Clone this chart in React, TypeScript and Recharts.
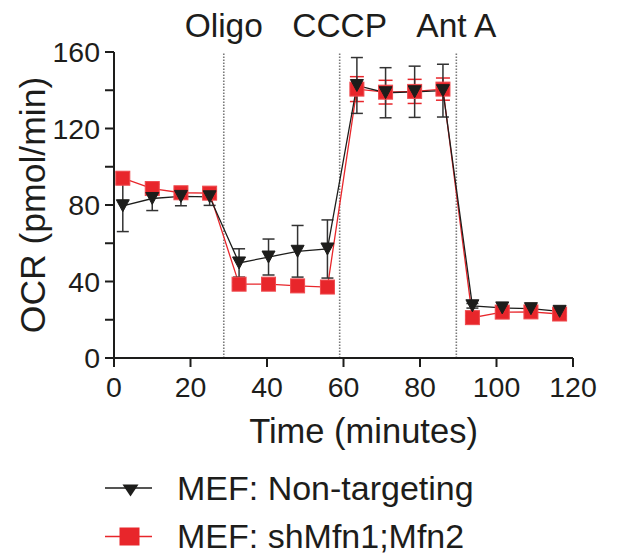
import React from 'react';
import { ComposedChart, Line, XAxis, YAxis, ErrorBar, ReferenceLine, Legend, Label } from 'recharts';

const times = [2.3, 10, 17.5, 25, 32.7, 40.4, 48, 55.8, 63.5, 71, 78.6, 86, 93.7, 101.5, 109, 116.5];
const nonTargeting = [79.6, 83.4, 84.5, 84.3, 49.7, 52.8, 55.8, 57, 142.5, 138.7, 139.2, 139.8, 27.3, 26.2, 25.8, 24.4];
const nonTargetingSd = [13.5, 6.3, 4.9, 4.5, 7.4, 9.4, 13.5, 15.2, 14.6, 13.1, 13.4, 13.8, 1.2, 1.2, 1.2, 1.2];
const shMfn = [94, 88.6, 86.4, 86.2, 38.6, 38.6, 37.7, 37.1, 140.6, 139, 139.4, 140.6, 21.1, 24, 24.1, 23];
const shMfnSd = [3, 2.2, 2, 2, 1, 1, 1, 1, 6.5, 6.2, 6.3, 5.8, 1, 1, 1, 1];

const xTicks = [0, 20, 40, 60, 80, 100, 120];
const yTicks = [0, 20, 40, 60, 80, 100, 120, 140, 160];
const injectionTimes = [28.7, 59, 89.5];
const injectionLabels = ['Oligo', 'CCCP', 'Ant A'];
const seriesNames = ['MEF: Non-targeting', 'MEF: shMfn1;Mfn2'];

const BLACK = '#1d1d1b';
const RED = '#e8262b';
const FONT = '"Liberation Sans", Arial, sans-serif';

const data = times.map((t, i) => ({
  time: t,
  nt: nonTargeting[i],
  ntErr: nonTargetingSd[i],
  sh: shMfn[i],
  shErr: shMfnSd[i],
}));

const triangle = (cx: number, cy: number, w: number, h: number) =>
  `M${cx - w / 2},${cy - h / 2} L${cx + w / 2},${cy - h / 2} L${cx},${cy + h / 2} Z`;

const TriDot = (props: any) => {
  const { cx, cy, index } = props;
  if (cx == null || cy == null) return null;
  return <path key={`t-${index}`} d={triangle(cx, cy, 13, 12)} fill={BLACK} stroke={BLACK} strokeWidth={1} />;
};

const SqDot = (props: any) => {
  const { cx, cy, index } = props;
  if (cx == null || cy == null) return null;
  return <rect key={`s-${index}`} x={cx - 7} y={cy - 7} width={14} height={14} fill={RED} stroke="#ef4a4e" strokeWidth={1} />;
};

const LegendContent = () => (
  <svg width={617} height={100} style={{ display: 'block' }}>
    {seriesNames.map((name, i) => {
      const ly = 28 + i * 48.5;
      return (
        <g key={name}>
          <line x1={105} x2={152} y1={ly} y2={ly} stroke={i === 0 ? BLACK : RED} strokeWidth={1.5} />
          {i === 0 ? (
            <path d={triangle(130.5, ly + 2.5, 16, 12)} fill={BLACK} />
          ) : (
            <rect x={119.5} y={ly - 9} width={20} height={18} fill={RED} />
          )}
          <text x={177} y={ly + 11.5} fontSize={34} fill={BLACK} fontFamily={FONT}>
            {name}
          </text>
        </g>
      );
    })}
  </svg>
);

export default function App() {
  return (
    <div style={{ position: 'absolute', left: 0, top: 0, fontFamily: FONT }}>
      <ComposedChart
        width={617}
        height={560}
        data={data}
        margin={{ top: 52, right: 44, left: 14, bottom: 142 }}
      >
        <XAxis
          dataKey="time"
          type="number"
          domain={[0, 120]}
          ticks={xTicks}
          height={60}
          tickSize={9}
          tickMargin={10}
          axisLine={{ stroke: BLACK, strokeWidth: 2 }}
          tickLine={{ stroke: BLACK, strokeWidth: 2 }}
          tick={{ fontSize: 28.5, fill: BLACK }}
          interval={0}
        >
          <Label
            content={(p: any) => {
              const vb = p.viewBox || { x: 114, y: 358, width: 459 };
              return (
                <text x={vb.x + vb.width / 2 + 20} y={vb.y + 85} textAnchor="middle" fontSize={34.5} fill={BLACK} fontFamily={FONT}>
                  Time (minutes)
                </text>
              );
            }}
          />
        </XAxis>
        <YAxis
          type="number"
          domain={[0, 160]}
          ticks={yTicks}
          width={100}
          tickSize={9}
          tickMargin={5}
          interval={0}
          tickFormatter={(v: number) => (v % 40 === 0 ? String(v) : '')}
          axisLine={{ stroke: BLACK, strokeWidth: 2 }}
          tickLine={{ stroke: BLACK, strokeWidth: 2 }}
          tick={{ fontSize: 28.5, fill: BLACK }}
        >
          <Label
            content={(p: any) => {
              const vb = p.viewBox || { x: 14, y: 52, height: 306 };
              const x0 = vb.x + 31;
              const y0 = vb.y + vb.height / 2;
              return (
                <text x={x0} y={y0} transform={`rotate(-90, ${x0}, ${y0})`} textAnchor="middle" fontSize={35.5} fill={BLACK} fontFamily={FONT}>
                  OCR (pmol/min)
                </text>
              );
            }}
          />
        </YAxis>
        {injectionTimes.map((t, i) => (
          <ReferenceLine
            key={injectionLabels[i]}
            x={t}
            stroke="#7a7a7a"
            strokeWidth={1.6}
            strokeDasharray="1.5 1.5"
            label={{ value: injectionLabels[i], position: 'top', offset: 15, fontSize: 33.5, fill: BLACK }}
          />
        ))}
        <Line
          dataKey="sh"
          name={seriesNames[1]}
          stroke={RED}
          strokeWidth={1.3}
          dot={SqDot}
          activeDot={false}
          isAnimationActive={false}
        >
          <ErrorBar dataKey="shErr" direction="y" width={7} stroke={RED} strokeWidth={1.5} />
        </Line>
        <Line
          dataKey="nt"
          name={seriesNames[0]}
          stroke={BLACK}
          strokeWidth={1.3}
          dot={TriDot}
          activeDot={false}
          isAnimationActive={false}
        >
          <ErrorBar dataKey="ntErr" direction="y" width={6} stroke="#333" strokeWidth={1.5} />
        </Line>
        <Legend
          layout="vertical"
          align="center"
          verticalAlign="middle"
          wrapperStyle={{ position: 'absolute', left: 0, top: 460, width: 617, height: 100 }}
          content={LegendContent}
        />
      </ComposedChart>
    </div>
  );
}
